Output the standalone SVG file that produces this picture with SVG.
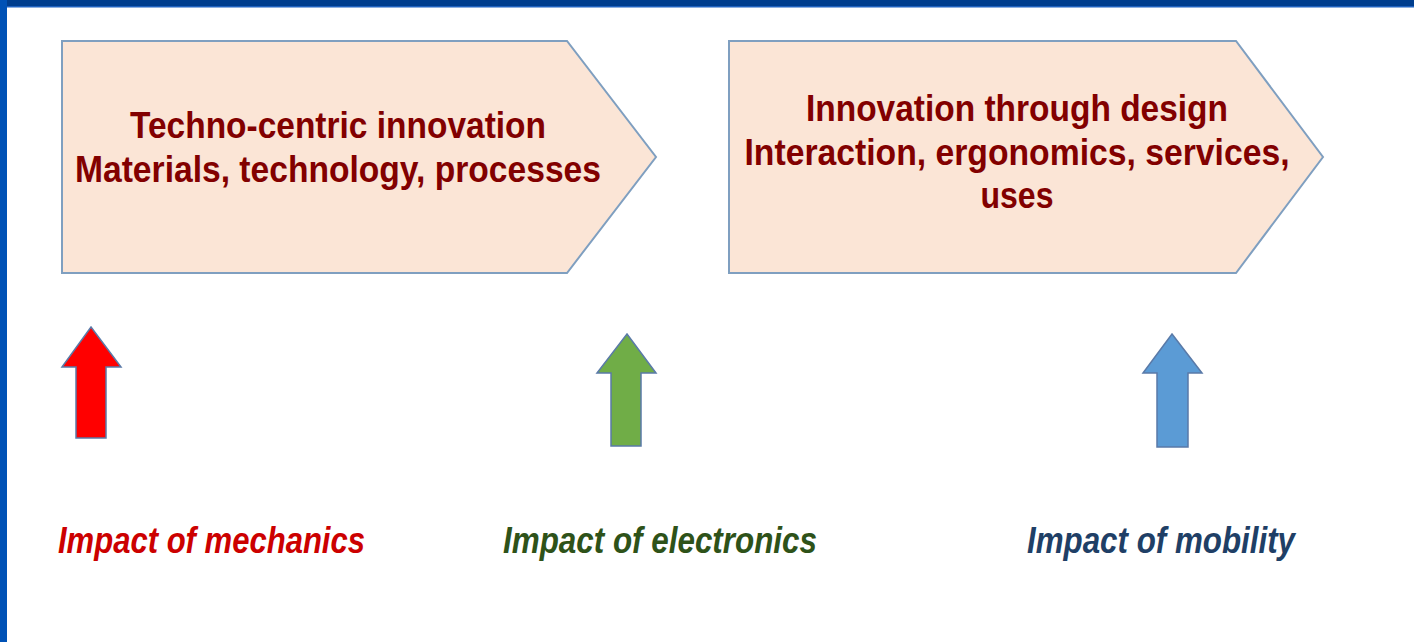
<svg xmlns="http://www.w3.org/2000/svg" width="1414" height="642" viewBox="0 0 1414 642">
<style>
.box{fill:#fbe5d6;stroke:#7f9fc0;stroke-width:2}
.title{font-family:"Liberation Sans",Arial,sans-serif;font-weight:bold;font-size:36px;fill:#820000;text-anchor:middle}
.lbl{font-family:"Liberation Sans",Arial,sans-serif;font-weight:bold;font-style:italic;font-size:37px}
.arr{stroke:#5a7aa8;stroke-width:1.5}
</style>
<rect x="0" y="0" width="1414" height="642" fill="#ffffff"/>
<rect x="0" y="0" width="1414" height="7" fill="#003e8e"/>
<rect x="0" y="6" width="1414" height="1.5" fill="#1f62c0"/>
<rect x="0" y="0" width="7" height="642" fill="#0052b6"/>
<g id="node-techno">
<polygon class="box" points="62,41 567,41 656,157 567,273 62,273"/>
<text class="title" x="338" y="138" textLength="416" lengthAdjust="spacingAndGlyphs">Techno-centric innovation</text>
<text class="title" x="338" y="182" textLength="526" lengthAdjust="spacingAndGlyphs">Materials, technology, processes</text>
</g>
<g id="node-design">
<polygon class="box" points="729,41 1236,41 1323,157 1236,273 729,273"/>
<text class="title" x="1017" y="121" textLength="422" lengthAdjust="spacingAndGlyphs">Innovation through design</text>
<text class="title" x="1017" y="165" textLength="545" lengthAdjust="spacingAndGlyphs">Interaction, ergonomics, services,</text>
<text class="title" x="1017" y="208" textLength="73" lengthAdjust="spacingAndGlyphs">uses</text>
</g>
<g id="node-mechanics">
<polygon class="arr" fill="#ff0000" points="91,327 121,367 106,367 106,438 76,438 76,367 62,367"/>
<text class="lbl" x="58" y="553" fill="#cc0000" textLength="307" lengthAdjust="spacingAndGlyphs">Impact of mechanics</text>
</g>
<g id="node-electronics">
<polygon class="arr" fill="#70ad47" points="627,334 656,373 641,373 641,446 611,446 611,373 597,373"/>
<text class="lbl" x="503" y="553" fill="#2e5219" textLength="314" lengthAdjust="spacingAndGlyphs">Impact of electronics</text>
</g>
<g id="node-mobility">
<polygon class="arr" fill="#5b9bd5" points="1172,334 1202,373 1188,373 1188,447 1157,447 1157,373 1143,373"/>
<text class="lbl" x="1027" y="553" fill="#1f3f66" textLength="268" lengthAdjust="spacingAndGlyphs">Impact of mobility</text>
</g>
<g id="connectors"></g>
</svg>
